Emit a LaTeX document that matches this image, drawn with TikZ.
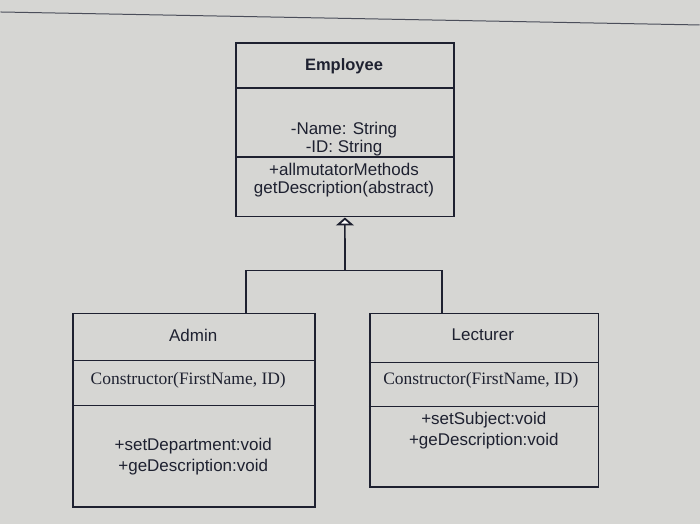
\documentclass[tikz,border=0pt]{standalone}
\usepackage{fontspec}
\usetikzlibrary{arrows.meta}
\newfontfamily\arialfont{Liberation Sans}
\newfontfamily\timesfont{Liberation Serif}

\definecolor{screengray}{RGB}{214,214,211}
\definecolor{inkblue}{RGB}{30,33,48}

\tikzset{
  umlbox/.style={draw=inkblue, line width=1.8pt, anchor=north west, inner sep=0pt},
  divider/.style={draw=inkblue, line width=1.6pt},
  classname/.style={text=inkblue, font=\arialfont\fontsize{17}{20}\selectfont},
  member/.style={text=inkblue, align=center, font=\arialfont\fontsize{17}{20}\selectfont},
  ctor/.style={text=inkblue, font=\timesfont\fontsize{17.5}{20}\selectfont},
}

\begin{document}
\begin{tikzpicture}[x=1pt, y=-1pt]
    % background of the screen
    \fill[screengray] (0,0) rectangle (700,525);
    \draw[inkblue!80, line width=1pt] (0,12) -- (700,25);
    \useasboundingbox (0,0) rectangle (700,525);

    % 1. Employee
    \node[umlbox, minimum width=218pt, minimum height=174pt] (employee) at (235,42) {};
    \draw[divider] (235,88) -- (453,88);
    \draw[divider] (235,157) -- (453,157);
    \node[classname, font=\arialfont\bfseries\fontsize{16.5}{20}\selectfont] (empname) at (344,66) {Employee};
    \node[member, font=\arialfont\fontsize{17}{18}\selectfont] (empattr) at (344,139) {-Name: String\\-ID: String};
    \node[member, font=\arialfont\fontsize{17}{18}\selectfont] (empops) at (344,180) {+allmutatorMethods\\getDescription(abstract)};

    % 2. Admin
    \node[umlbox, minimum width=242pt, minimum height=194pt] (admin) at (72,313) {};
    \draw[divider] (72,361) -- (314,361);
    \draw[divider] (72,406) -- (314,406);
    \node[classname] (adminname) at (193,336) {Admin};
    \node[ctor] (adminctor) at (188,381) {Constructor(FirstName, ID)};
    \node[member, font=\arialfont\fontsize{17}{21}\selectfont] (adminops) at (193,457) {+setDepartment:void\\+geDescription:void};

    % 3. Lecturer
    \node[umlbox, minimum width=229pt, minimum height=174pt] (lecturer) at (369,313) {};
    \draw[divider] (369,363) -- (598,363);
    \draw[divider] (369,407) -- (598,407);
    \node[classname] (lectname) at (483,335) {Lecturer};
    \node[ctor] (lectctor) at (481,381) {Constructor(FirstName, ID)};
    \node[member, font=\arialfont\fontsize{17}{21}\selectfont] (lectops) at (484,431) {+setSubject:void\\+geDescription:void};

    % 4. generalisation
    \coordinate (split) at (345,271);
    \coordinate (adminin) at (246,313);
    \coordinate (lectin) at (442,313);
    \draw[inkblue, line width=1.6pt] (adminin) |- (split) -| (lectin);
    \draw[inkblue, line width=1.6pt, -{Triangle[open, fill=white, width=18pt, length=8pt, line width=1.8pt]}] (split) -- (employee.south);
\end{tikzpicture}
\end{document}
